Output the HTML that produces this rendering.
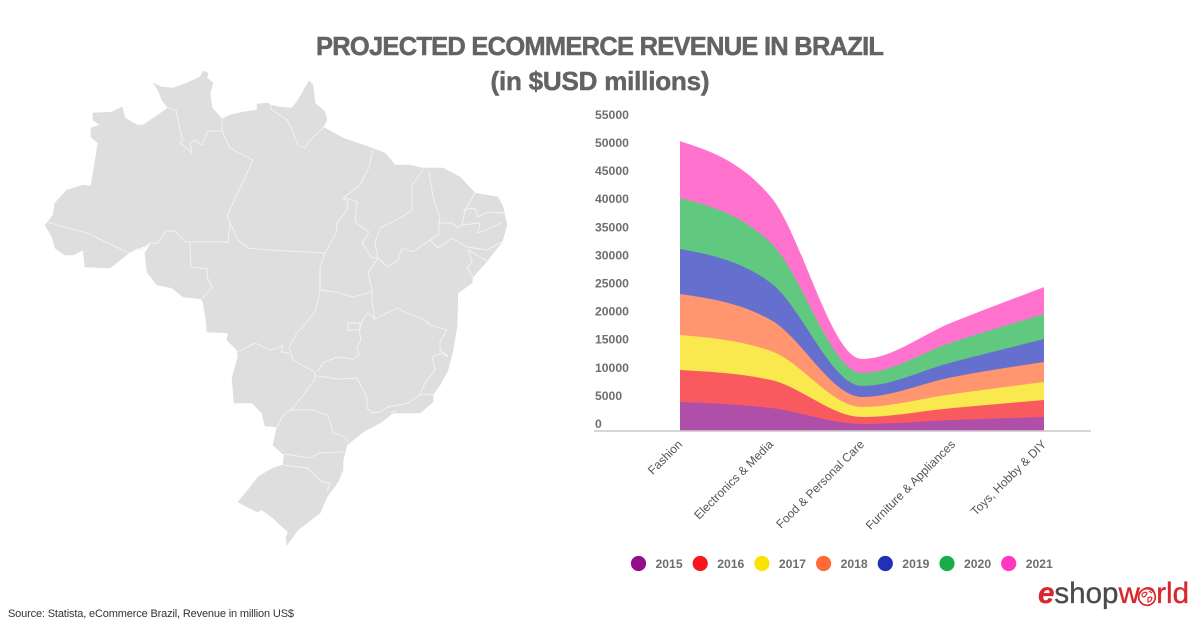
<!DOCTYPE html>
<html lang="en">
<head>
<meta charset="utf-8">
<title>Projected Ecommerce Revenue in Brazil</title>
<style>
html,body{margin:0;padding:0;background:#fff;}
body{width:1200px;height:627px;overflow:hidden;}
svg{display:block;}
text{font-family:"Liberation Sans",Arial,sans-serif;}
</style>
</head>
<body>
<svg id="root" width="1200" height="627" viewBox="0 0 1200 627" xmlns="http://www.w3.org/2000/svg">
  <rect width="1200" height="627" fill="#ffffff"/>

  <g>
    <path fill="#dedede" stroke="#dedede" stroke-width="0.6" stroke-linejoin="round" d="M153,83 L162,87 173,88 187,83 200,77 203,71 208,73 207,78 213,83 210,93 212,108 222,119 230,115 243,112 257,110 257,104 268,103 270,105 280,107 292,108 298,100 309,81 313,85 315,103 325,112 327,120 323,127 343,138 372,148 385,153 395,165 410,165 423,168 443,168 460,177 475,193 498,197 503,207 507,225 502,242 488,260 473,277 472,283 458,293 457,327 453,350 448,370 440,385 433,395 433,402 420,413 407,413 393,413 380,423 363,432 347,445 343,460 343,470 338,482 327,497 320,513 307,523 298,530 287,545 286,538 288,532 273,518 262,510 257,512 238,502 248,490 258,477 273,468 283,465 284,455 273,445 277,427 265,426 262,413 252,403 234,403 233,390 232,378 238,357 237,350 227,340 228,333 207,332 206,320 203,302 201,299 183,297 172,288 157,285 147,272 145,253 151,243 129,253 110,268 85,267 83,250 73,255 65,255 55,248 52,237 45,225 53,215 55,203 67,190 83,185 91,186 98,143 91,137 91,128 100,125 93,120 93,113 112,112 122,107 125,118 137,125 143,125 155,117 168,108 162,100 158,90 Z"/>
    <g fill="none" stroke="#f3f3f3" stroke-width="0.9" stroke-linejoin="round">
      <path d="M47,222 L60,226 87,233 129,253 137,249 142,250 150,243 158,243 166,231 175,231 185,242 190,242 228,242 230,223 227,216 253,160"/>
      <path d="M168,108 L176,110 180,130 183,140 180,143 192,153 190,143 195,140 202,145 208,131 222,131"/>
      <path d="M222,119 L222,131 230,148 243,155 253,160"/>
      <path d="M190,242 L191,267 208,269 207,277 212,287 202,299"/>
      <path d="M227,216 L238,240 248,248 270,250 325,253"/>
      <path d="M270,105 L272,110 287,120 292,130 298,145 305,148 310,140 325,126"/>
      <path d="M373,149 L369,167 360,185 343,198 348,202 347,210 337,223 336,233 325,253 320,267 320,290 318,300"/>
      <path d="M343,198 L350,199 357,202 355,222 369,232 362,243 372,258 378,258"/>
      <path d="M424,169 L412,185 412,210 402,217 380,228 375,243 378,258"/>
      <path d="M429,171 L433,197 440,218 438,235 430,240"/>
      <path d="M378,258 L387,267 398,260 402,248 413,252 430,240"/>
      <path d="M378,258 L368,273 372,290 372,302 375,319"/>
      <path d="M320,290 L335,292 353,297 372,292"/>
      <path d="M438,223 L452,223 458,228 462,225 480,223 478,233 502,223"/>
      <path d="M430,240 L438,248 452,238 467,247 487,250 502,242"/>
      <path d="M475,193 L465,210 462,225"/>
      <path d="M463,210 L475,208 478,217 487,212 505,213"/>
      <path d="M468,250 L487,261"/>
      <path d="M468,250 L472,262 467,268 473,277"/>
      <path d="M375,319 L368,313 363,320 359,330 361,340 357,348 359,355 353,359 337,357 323,363 317,372"/>
      <path d="M318,300 L315,312 297,333 289,347 293,360 315,372"/>
      <path d="M238,352 L255,343 270,350 278,348 283,345 281,352 289,353"/>
      <path d="M315,372 L315,379 307,390 293,408 283,415 277,427"/>
      <path d="M315,376 L320,376 337,379 357,378 362,388 367,397 367,408 372,413 380,412 388,407 408,403 420,395 433,394"/>
      <path d="M390,413 L397,410"/>
      <path d="M420,395 L425,383 435,370 432,357 442,353 448,357"/>
      <path d="M375,319 L397,308 407,313 425,320 430,325 447,330 440,342 440,350 448,356"/>
      <path d="M290,410 L312,410 328,415 333,433 345,437 348,442"/>
      <path d="M284,454 L310,458 320,453 343,452"/>
      <path d="M283,465 L307,468 322,482 330,483 327,492"/>
      <rect x="348" y="323" width="12" height="7"/>
    </g>
  </g>

  <g fill="#636363" stroke="#636363" stroke-width="0.5" font-weight="700" text-anchor="middle">
    <text x="600" y="55" font-size="25.5" textLength="568" lengthAdjust="spacing">PROJECTED ECOMMERCE REVENUE IN BRAZIL</text>
    <text x="600" y="90" font-size="26" textLength="219" lengthAdjust="spacing">(in $USD millions)</text>
  </g>

  <g id="chart"></g>

  <text x="8" y="617" font-size="11" fill="#333333" textLength="286" lengthAdjust="spacing">Source: Statista, eCommerce Brazil, Revenue in million US$</text>

  <g>
    <text x="1038" y="603" font-size="30" stroke-width="0.35" textLength="151" lengthAdjust="spacingAndGlyphs"><tspan fill="#d9272e" stroke="#d9272e" font-style="italic" font-weight="700">e</tspan><tspan fill="#4b4b4d" stroke="#4b4b4d">shop</tspan><tspan fill="#d9272e" stroke="#d9272e">w</tspan><tspan fill="#d9272e" stroke="#d9272e">o</tspan><tspan fill="#d9272e" stroke="#d9272e">rld</tspan></text>
    <g fill="none" stroke="#d9272e">
      <circle cx="1147" cy="597" r="8.3" fill="#ffffff" stroke-width="1.7"/>
      <path d="M1142,594 q3,-3 5,-1 q-1,3 -3,4 q-2,0 -2,-3 M1148,598 q3,-2 4,0 q-1,4 -4,4 Z M1149,591 l3,2" stroke-width="1.2"/>
    </g>
  </g>
</svg>

<script>
const categories = ["Fashion", "Electronics & Media", "Food & Personal Care", "Furniture & Appliances", "Toys, Hobby & DIY"];
const years = ["2015", "2016", "2017", "2018", "2019", "2020", "2021"];
const series2015 = [5160, 4090, 1250, 1960, 2490];
const series2016 = [5690, 4980, 1250, 2130, 3020];
const series2017 = [6230, 5160, 1780, 2490, 3200];
const series2018 = [7290, 5510, 1780, 3020, 3560];
const series2019 = [8010, 6580, 1960, 2670, 4090];
const series2020 = [9070, 7120, 2310, 3560, 4450];
const series2021 = [10140, 8180, 2490, 3560, 4800];
const yTicks = [0, 5000, 10000, 15000, 20000, 25000, 30000, 35000, 40000, 45000, 50000, 55000];

const allSeries = [series2015, series2016, series2017, series2018, series2019, series2020, series2021];
const areaColors = ["#b04fa9", "#f95a60", "#f9e94e", "#ff9670", "#656fce", "#60c87f", "#ff73cf"];
const legendColors = ["#950d8d", "#f8171f", "#f9e400", "#ff6a35", "#2230b8", "#18ad4a", "#ff38be"];

const NS = "http://www.w3.org/2000/svg";
const chart = document.getElementById("chart");

function xScale(i) { return 680 + i * (1044 - 680) / (categories.length - 1); }
function yScale(v) { return 431 - v * 28.1 / 5000; }

function monotonePath(xs, ys) {
  const n = xs.length;
  const slope = [];
  for (let i = 0; i < n - 1; i++) slope.push((ys[i + 1] - ys[i]) / (xs[i + 1] - xs[i]));
  const tan = new Array(n);
  for (let i = 1; i < n - 1; i++) {
    const h0 = xs[i] - xs[i - 1];
    const h1 = xs[i + 1] - xs[i];
    const p = (slope[i - 1] * h1 + slope[i] * h0) / (h0 + h1);
    const same = (Math.sign(slope[i - 1]) + Math.sign(slope[i]));
    tan[i] = same * Math.min(Math.abs(slope[i - 1]), Math.abs(slope[i]), 0.5 * Math.abs(p));
  }
  tan[0] = (3 * slope[0] - tan[1]) / 2;
  tan[n - 1] = (3 * slope[n - 2] - tan[n - 2]) / 2;
  let d = "M" + xs[0] + "," + ys[0];
  for (let i = 0; i < n - 1; i++) {
    const h = (xs[i + 1] - xs[i]) / 3;
    d += " C" + (xs[i] + h) + "," + (ys[i] + tan[i] * h) + " " + (xs[i + 1] - h) + "," + (ys[i + 1] - tan[i + 1] * h) + " " + xs[i + 1] + "," + ys[i + 1];
  }
  return d;
}

const xs = categories.map(function (c, i) { return xScale(i); });
const cumulative = [];
allSeries.forEach(function (s, k) {
  cumulative.push(s.map(function (v, i) { return v + (k > 0 ? cumulative[k - 1][i] : 0); }));
});

for (let k = allSeries.length - 1; k >= 0; k--) {
  const area = document.createElementNS(NS, "path");
  
  
  const top = cumulative[k].map(yScale);
  const d = monotonePath(xs, top) + " L" + xs[xs.length - 1] + "," + yScale(0) + " L" + xs[0] + "," + yScale(0) + " Z";
  area.setAttribute("d", d);
  area.setAttribute("fill", areaColors[k]);
  chart.appendChild(area);
}

const axisLine = document.createElementNS(NS, "line");


axisLine.setAttribute("x1", 594);
axisLine.setAttribute("x2", 1091);
axisLine.setAttribute("y1", 431);
axisLine.setAttribute("y2", 431);
axisLine.setAttribute("stroke", "#c8c8c8");
axisLine.setAttribute("stroke-width", 1.6);
chart.appendChild(axisLine);

yTicks.forEach(function (t) {
  const label = document.createElementNS(NS, "text");
  
  
  label.setAttribute("x", 595);
  label.setAttribute("y", yScale(t) - 3);
  label.setAttribute("font-size", 12.2);
  label.setAttribute("font-weight", 700);
  label.setAttribute("fill", "#6e6e6e");
  label.textContent = String(t);
  chart.appendChild(label);
});

categories.forEach(function (c, i) {
  const label = document.createElementNS(NS, "text");
  
  
  const lx = xScale(i) + 3;
  const ly = 445;
  label.setAttribute("x", lx);
  label.setAttribute("y", ly);
  label.setAttribute("font-size", 12);
  label.setAttribute("fill", "#555555");
  label.setAttribute("text-anchor", "end");
  label.setAttribute("transform", "rotate(-45 " + lx + " " + ly + ")");
  label.textContent = c;
  chart.appendChild(label);
});

years.forEach(function (y, i) {
  const group = document.createElementNS(NS, "g");
  
  
  const cx = 638.5 + i * 61.7;
  const dot = document.createElementNS(NS, "circle");
  
  
  dot.setAttribute("cx", cx);
  dot.setAttribute("cy", 563.5);
  dot.setAttribute("r", 7.6);
  dot.setAttribute("fill", legendColors[i]);
  group.appendChild(dot);
  const text = document.createElementNS(NS, "text");
  
  
  text.setAttribute("x", cx + 17);
  text.setAttribute("y", 568);
  text.setAttribute("font-size", 12.2);
  text.setAttribute("font-weight", 700);
  text.setAttribute("fill", "#6e6e6e");
  text.textContent = y;
  group.appendChild(text);
  chart.appendChild(group);
});
</script>
</body>
</html>
